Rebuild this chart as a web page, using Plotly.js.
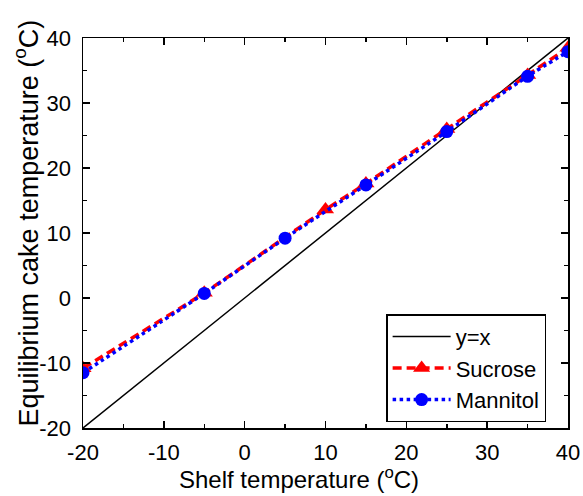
<!DOCTYPE html>
<html><head><meta charset="utf-8">
<script src="https://cdn.plot.ly/plotly-3.0.1.min.js"></script>
<style>body{margin:0}#c{width:583px;height:496px}</style>
</head><body><div id="c"></div>
<script>
const refX = [-20, 40];
const refY = [-20, 40];
const sucroseX = [-20, -5, 10, 15, 25, 35, 40];
const sucroseY = [-10.8, 0.8, 13.6, 17.6, 26.0, 34.3, 38.5];
const mannitolX = [-20, -5, 5, 15, 25, 35, 40];
const mannitolY = [-11.5, 0.7, 9.2, 17.4, 25.6, 34.1, 37.9];
const tickVals = [-20, -10, 0, 10, 20, 30, 40];
const tickText = ['-20', '-10', '0', '10', '20', '30', '40'];
const xTitle = 'Shelf temperature (<sup>o</sup>C)';
const yTitle = 'Equilibrium cake temperature (<sup>o</sup>C)';

const F = 'Arial, "Liberation Sans", sans-serif';
const traces = [
  {x: refX, y: refY, mode: 'lines', name: 'y=x', line: {color: 'black', width: 1.5}},
  {x: sucroseX, y: sucroseY, mode: 'lines+markers', name: 'Sucrose',
   line: {color: '#ff0000', width: 3.5, dash: '9px,5px', shape: 'spline', smoothing: 0.6},
   marker: {symbol: 'triangle-up', size: 15, color: '#ff0000'}},
  {x: mannitolX, y: mannitolY, mode: 'lines+markers', name: 'Mannitol',
   line: {color: '#0000ff', width: 3.5, dash: 'dot', shape: 'spline', smoothing: 0.6},
   marker: {symbol: 'circle', size: 13, color: '#0000ff'}}
];
const axisCommon = {
  range: [-20, 40], tickvals: tickVals, ticktext: tickText, ticks: 'inside', ticklen: 7, tickwidth: 1.5,
  tickcolor: 'black', showline: true, linecolor: 'black', linewidth: 1.5, mirror: 'ticks',
  showgrid: false, zeroline: false, tickfont: {family: F, size: 22, color: 'black'},
  minor: {dtick: 5, ticks: 'inside', ticklen: 4, tickwidth: 1.5, tickcolor: 'black', showgrid: false}
};
const layout = {
  width: 583, height: 496,
  margin: {l: 83, r: 15, t: 38, b: 68},
  paper_bgcolor: 'white', plot_bgcolor: 'white',
  showlegend: true,
  legend: {x: 0.625, y: 0.292, xanchor: 'left', yanchor: 'top', bordercolor: 'black', borderwidth: 1.5,
    bgcolor: 'white', font: {family: F, size: 22, color: 'black'}, itemwidth: 58, tracegroupgap: 0},
  xaxis: Object.assign({}, axisCommon, {ticklabelstandoff: 4}),
  yaxis: Object.assign({}, axisCommon, {ticklabelstandoff: 6}),
  annotations: [
    {text: xTitle, xref: 'paper', yref: 'paper', x: 0.445, y: -0.128, xanchor: 'center', yanchor: 'middle',
     showarrow: false, font: {family: F, size: 24, color: 'black'}},
    {text: yTitle, xref: 'paper', yref: 'paper', x: -0.1155, y: 0.527, xanchor: 'center', yanchor: 'middle',
     textangle: -90, showarrow: false, font: {family: F, size: 27, color: 'black'}}
  ]
};
Plotly.newPlot('c', traces, layout, {displayModeBar: false, staticPlot: true});
</script></body></html>
